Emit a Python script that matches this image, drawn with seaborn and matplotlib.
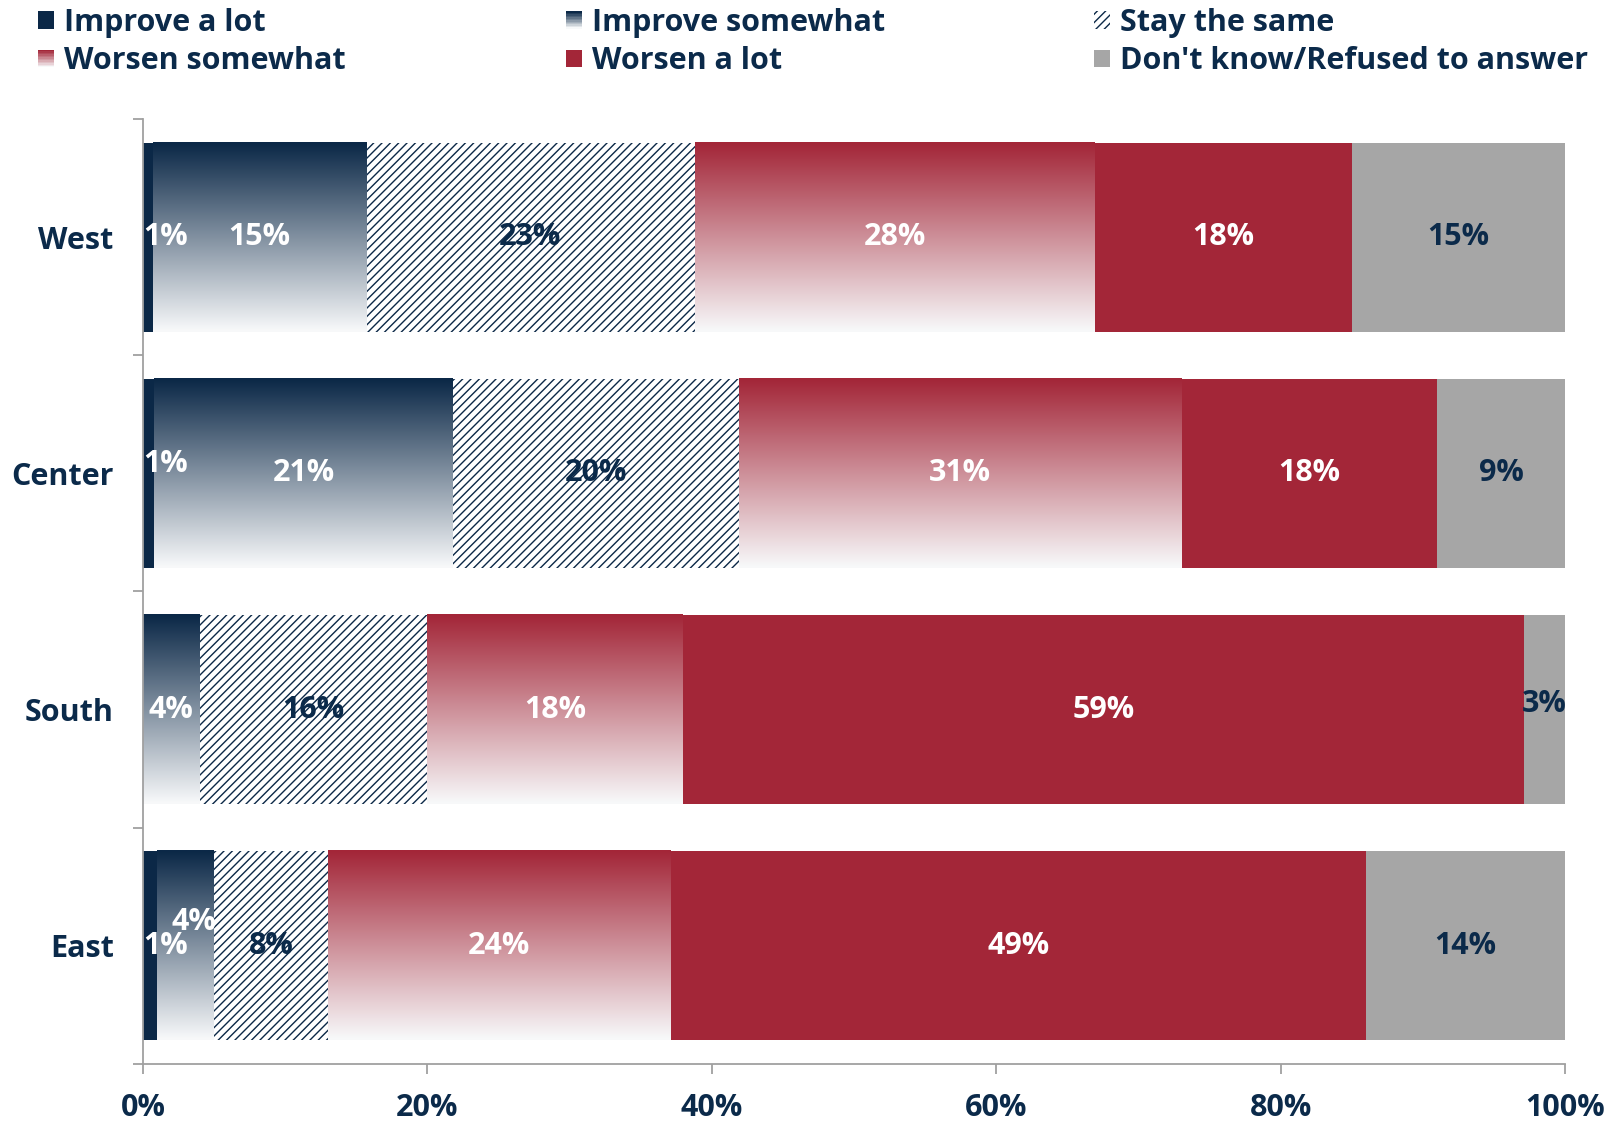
import matplotlib
matplotlib.use("Agg")
import matplotlib.pyplot as plt
import numpy as np
import pandas as pd
import seaborn as sns
from matplotlib.colors import to_rgb
from matplotlib.legend_handler import HandlerBase
from matplotlib.patches import Rectangle
from matplotlib.ticker import FixedLocator, FuncFormatter

REGIONS = ["West", "Center", "South", "East"]
CATEGORIES = [
    "Improve a lot",
    "Improve somewhat",
    "Stay the same",
    "Worsen somewhat",
    "Worsen a lot",
    "Don't know/Refused to answer",
]
IMPROVE_LOT = [0.7, 0.8, 0.0, 1.0]
IMPROVE_SOME = [15.0, 21.0, 4.0, 4.0]
STAY_SAME = [23.1, 20.1, 16.0, 8.0]
WORSEN_SOME = [28.1, 31.1, 18.0, 24.1]
WORSEN_LOT = [18.1, 18.0, 59.1, 48.9]
DONT_KNOW = [15.0, 9.0, 2.9, 14.0]
X_TICKS = [0, 20, 40, 60, 80, 100]

NAVY = "#0b2847"
RED = "#a32638"
GRAY = "#a6a6a6"
TEXT = "#0b2a4a"
SPINE = "#a0a0a0"
FONT_SIZE = 22
HATCH = "////"


def gradient(color, n=64):
    top = np.array(to_rgb(color))
    bottom = np.array([0.97, 0.975, 0.98])
    t = np.linspace(0, 1, n)[:, None]
    return (top * (1 - t) + bottom * t)[:, None, :]


class GradientHandler(HandlerBase):
    def __init__(self, color, steps=12):
        super().__init__()
        self.color = color
        self.steps = steps

    def create_artists(self, legend, orig_handle, xdescent, ydescent,
                       width, height, fontsize, trans):
        cols = gradient(self.color, self.steps)
        h = height / self.steps
        arts = []
        for i in range(self.steps):
            arts.append(Rectangle((-xdescent, -ydescent + height - (i + 1) * h),
                                  width, h, facecolor=cols[i, 0],
                                  edgecolor="none", transform=trans))
        return arts


def main() -> None:
    sns.set_theme(style="white")
    plt.rcParams["font.family"] = ["Open Sans", "DejaVu Sans"]
    plt.rcParams["font.weight"] = "bold"
    plt.rcParams["hatch.linewidth"] = 1.0

    series = [IMPROVE_LOT, IMPROVE_SOME, STAY_SAME, WORSEN_SOME, WORSEN_LOT, DONT_KNOW]
    df = pd.DataFrame({"region": REGIONS})
    for cat, vals in zip(CATEGORIES, series):
        df[cat] = vals

    styles = {
        "Improve a lot": dict(color=NAVY, grad=None, hatch=None, txt="white"),
        "Improve somewhat": dict(color=NAVY, grad=NAVY, hatch=None, txt="white"),
        "Stay the same": dict(color="white", grad=None, hatch=HATCH, txt=TEXT),
        "Worsen somewhat": dict(color=RED, grad=RED, hatch=None, txt="white"),
        "Worsen a lot": dict(color=RED, grad=None, hatch=None, txt="white"),
        "Don't know/Refused to answer": dict(color=GRAY, grad=None, hatch=None, txt=TEXT),
    }
    # small manual nudges for crowded labels (x in %, y in category units)
    nudges = {
        ("Center", "Improve a lot"): (0.0, -0.04),
        ("East", "Improve somewhat"): (0.6, -0.1),
        ("South", "Don't know/Refused to answer"): (0.0, -0.025),
    }

    fig = plt.figure(figsize=(16.24, 11.22), dpi=100)
    ax = fig.add_axes([0.088, 0.0517, 0.8757, 0.8423])

    left = np.zeros(len(REGIONS))
    for cat in CATEGORIES:
        st = styles[cat]
        vals = df[cat].to_numpy()
        kw = dict(linewidth=0)
        if st["hatch"]:
            kw.update(facecolor="white", edgecolor=NAVY, hatch=st["hatch"])
        sns.barplot(data=df, y="region", x=cat, order=REGIONS, orient="h",
                    width=0.8, left=left.copy(), color=st["color"],
                    saturation=1, errorbar=None, ax=ax, **kw)
        bars = ax.containers[-1]
        for region, p, v in zip(REGIONS, bars, vals):
            x0, y0, w, h = p.get_x(), p.get_y(), p.get_width(), p.get_height()
            if st["grad"] and w > 0:
                ax.imshow(gradient(st["grad"]), extent=(x0, x0 + w, y0 + h, y0),
                          aspect="auto", interpolation="bilinear", zorder=2.5)
            if v <= 0:
                continue
            dx, dy = nudges.get((region, cat), (0.0, 0.0))
            if w < 2:
                tx, ha = x0 + dx, "left"
            else:
                tx, ha = x0 + w / 2 + dx, "center"
            ax.text(tx, y0 + h / 2 + dy, f"{v:.0f}%", ha=ha, va="center",
                    color=st["txt"], fontsize=FONT_SIZE, fontweight="bold",
                    zorder=4)
        left = left + vals

    ax.set_xlim(0, 100)
    ax.set_ylim(3.5, -0.5)
    ax.set_xlabel("")
    ax.set_ylabel("")
    ax.xaxis.set_major_locator(FixedLocator(X_TICKS))
    ax.xaxis.set_major_formatter(FuncFormatter(lambda v, _: f"{v:.0f}%"))
    ax.yaxis.set_minor_locator(FixedLocator([-0.5, 0.5, 1.5, 2.5, 3.5]))
    ax.tick_params(axis="y", which="major", length=0, pad=21,
                   labelsize=FONT_SIZE, labelcolor=TEXT)
    ax.tick_params(axis="y", which="minor", left=True, length=7, width=1.3,
                   color=SPINE)
    ax.tick_params(axis="x", which="major", bottom=True, length=7, width=1.3,
                   color=SPINE, pad=14, labelsize=FONT_SIZE, labelcolor=TEXT)
    for lab in ax.get_xticklabels() + ax.get_yticklabels():
        lab.set_fontweight("bold")
    for side in ("top", "right"):
        ax.spines[side].set_visible(False)
    for side in ("left", "bottom"):
        ax.spines[side].set_color(SPINE)
        ax.spines[side].set_linewidth(1.3)
    ax.grid(False)

    # legend: three columns, each its own legend so column starts match
    proxies = {
        "Improve a lot": Rectangle((0, 0), 1, 1, facecolor=NAVY, linewidth=0),
        "Improve somewhat": Rectangle((0, 0), 1, 1, facecolor=NAVY, linewidth=0),
        "Stay the same": Rectangle((0, 0), 1, 1, facecolor="white",
                                   edgecolor=NAVY, hatch=HATCH, linewidth=0),
        "Worsen somewhat": Rectangle((0, 0), 1, 1, facecolor=RED, linewidth=0),
        "Worsen a lot": Rectangle((0, 0), 1, 1, facecolor=RED, linewidth=0),
        "Don't know/Refused to answer": Rectangle((0, 0), 1, 1, facecolor=GRAY,
                                                  linewidth=0),
    }
    hmap = {
        proxies["Improve somewhat"]: GradientHandler(NAVY),
        proxies["Worsen somewhat"]: GradientHandler(RED),
    }
    columns = [
        (0.0234, ["Improve a lot", "Worsen somewhat"]),
        (0.3485, ["Improve somewhat", "Worsen a lot"]),
        (0.6736, ["Stay the same", "Don't know/Refused to answer"]),
    ]
    for xpos, cats in columns:
        fig.legend([proxies[c] for c in cats], cats, loc="upper left",
                   bbox_to_anchor=(xpos, 0.993), frameon=False, borderpad=0,
                   borderaxespad=0, handlelength=0.52, handleheight=0.52,
                   handletextpad=0.33, labelspacing=0.28,
                   prop={"size": FONT_SIZE, "weight": "bold"},
                   labelcolor=TEXT, handler_map=hmap)

    fig.savefig("out.png", dpi=100)
    plt.close(fig)


if __name__ == "__main__":
    main()
